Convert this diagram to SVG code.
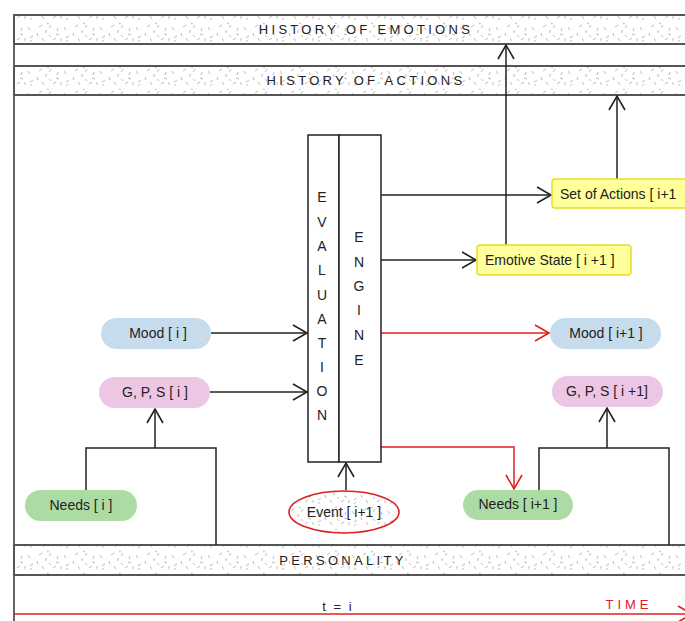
<svg xmlns="http://www.w3.org/2000/svg" width="685" height="621" viewBox="0 0 685 621">
  <defs>
    <!-- speckled fill used for the history / personality bands and the event -->
    <pattern id="grain" width="36" height="22" patternUnits="userSpaceOnUse">
      <rect width="36" height="22" fill="#fff"/>
      <path d="M3,5 l3,-2 M10,8 l0,3 M15,3 l-2,3 M20,12 l3,1 M28,5 l2,3 M33,14 l-3,2 M6,16 l2,3 M17,18 l3,-2 M25,16 l0,3 M11,1 l2,1 M30,20 l2,-2 M1,11 l1,3 M22,6 l-1,3 M13,13 l2,2"
            stroke="#aaa" stroke-width="0.8" fill="none"/>
    </pattern>
    <marker id="arr" viewBox="0 0 18 18" markerWidth="18" markerHeight="18" refX="16" refY="9" orient="auto" markerUnits="userSpaceOnUse">
      <path d="M2,1 L16,9 L2,17" fill="none" stroke="#222" stroke-width="1.6"/>
    </marker>
    <marker id="arrRed" viewBox="0 0 18 18" markerWidth="18" markerHeight="18" refX="16" refY="9" orient="auto" markerUnits="userSpaceOnUse">
      <path d="M2,1 L16,9 L2,17" fill="none" stroke="#e02020" stroke-width="1.6"/>
    </marker>
  </defs>
  <style>
    .band { fill: url(#grain); stroke: #555; stroke-width: 2; }
    .bandText { font-family: "Liberation Sans", Arial, sans-serif; font-size: 13px; letter-spacing: 3.3px; fill: #222; text-anchor: middle; }
    .lbl { font-family: "Liberation Sans", Arial, sans-serif; font-size: 14px; fill: #222; text-anchor: middle; }
    .lblStart { font-family: "Liberation Sans", Arial, sans-serif; font-size: 14px; fill: #222; }
    .letter { font-family: "Liberation Sans", Arial, sans-serif; font-size: 14px; fill: #222; text-anchor: middle; }
    .engineBox { fill: #fff; stroke: #222; stroke-width: 1.5; }
    .yellow { fill: #ffff9c; stroke: #eadc2a; stroke-width: 1.5; }
    .mood { fill: #c6dcec; }
    .gps { fill: #ecc6e2; }
    .needs { fill: #acdba4; }
    .line { fill: none; stroke: #222; stroke-width: 1.5; }
    .red { fill: none; stroke: #e02020; stroke-width: 1.5; }
  </style>

  <!-- outer frame edge -->
  <line x1="14" y1="15" x2="14" y2="621" stroke="#666" stroke-width="2"/>

  <g id="history-emotions">
    <rect class="band" x="14" y="15" width="680" height="29"/>
    <text class="bandText" x="366" y="34">HISTORY OF EMOTIONS</text>
  </g>
  <g id="history-actions">
    <rect class="band" x="14" y="66" width="680" height="29"/>
    <text class="bandText" x="366" y="85">HISTORY OF ACTIONS</text>
  </g>
  <g id="personality">
    <rect class="band" x="14" y="545" width="680" height="30"/>
    <text class="bandText" x="343" y="565">PERSONALITY</text>
  </g>

  <g id="connectors">
    <path class="line" d="M381,195 H551" marker-end="url(#arr)"/>
    <path class="line" d="M381,260 H476" marker-end="url(#arr)"/>
    <path class="line" d="M506,245 V45" marker-end="url(#arr)"/>
    <path class="line" d="M617,179 V96" marker-end="url(#arr)"/>
    <path class="line" d="M211,333 H307" marker-end="url(#arr)"/>
    <path class="line" d="M210,392 H307" marker-end="url(#arr)"/>
    <path class="line" d="M86,490 V448 H216 V545"/>
    <path class="line" d="M155,448 V409" marker-end="url(#arr)"/>
    <path class="line" d="M346,490 V463" marker-end="url(#arr)"/>
    <path class="red" d="M381,333 H549" marker-end="url(#arrRed)"/>
    <path class="red" d="M381,447 H514 V489" marker-end="url(#arrRed)"/>
    <path class="line" d="M539,490 V448 H669 V545"/>
    <path class="line" d="M607,448 V408" marker-end="url(#arr)"/>
    <path class="red" d="M14,614 H692" marker-end="url(#arrRed)"/>
  </g>

  <g id="evaluation">
    <rect class="engineBox" x="308" y="135" width="31" height="327"/>
    <text class="letter" x="322" y="202">E</text>
    <text class="letter" x="322" y="227">V</text>
    <text class="letter" x="322" y="251">A</text>
    <text class="letter" x="322" y="275">L</text>
    <text class="letter" x="322" y="300">U</text>
    <text class="letter" x="322" y="324">A</text>
    <text class="letter" x="322" y="348">T</text>
    <text class="letter" x="322" y="372">I</text>
    <text class="letter" x="322" y="396">O</text>
    <text class="letter" x="322" y="420">N</text>
  </g>
  <g id="engine">
    <rect class="engineBox" x="339" y="135" width="42" height="327"/>
    <text class="letter" x="359" y="242">E</text>
    <text class="letter" x="359" y="267">N</text>
    <text class="letter" x="359" y="291">G</text>
    <text class="letter" x="359" y="315">I</text>
    <text class="letter" x="359" y="340">N</text>
    <text class="letter" x="359" y="365">E</text>
  </g>

  <g id="set-of-actions">
    <rect class="yellow" x="552" y="179" width="140" height="29" rx="3"/>
    <text class="lblStart" x="560" y="199">Set of Actions [ i+1</text>
  </g>
  <g id="emotive-state">
    <rect class="yellow" x="477" y="245" width="154" height="30" rx="3"/>
    <text class="lblStart" x="485" y="265">Emotive State [ i +1 ]</text>
  </g>

  <g id="mood-i">
    <rect class="mood" x="101" y="318" width="110" height="31" rx="15.5"/>
    <text class="lbl" x="158" y="338">Mood [ i ]</text>
  </g>
  <g id="gps-i">
    <rect class="gps" x="99" y="377" width="111" height="31" rx="15.5"/>
    <text class="lbl" x="155" y="397">G, P, S [ i ]</text>
  </g>
  <g id="needs-i">
    <rect class="needs" x="25" y="490" width="112" height="31" rx="15.5"/>
    <text class="lbl" x="81" y="510">Needs [ i ]</text>
  </g>

  <g id="event">
    <ellipse cx="344" cy="512" rx="55" ry="21" fill="url(#grain)" stroke="#e02020" stroke-width="1.6"/>
    <text class="lbl" x="344" y="517">Event [ i+1 ]</text>
  </g>

  <g id="mood-next">
    <rect class="mood" x="550" y="318" width="111" height="31" rx="15.5"/>
    <text class="lbl" x="606" y="338">Mood [ i+1 ]</text>
  </g>
  <g id="gps-next">
    <rect class="gps" x="552" y="376" width="111" height="31" rx="15.5"/>
    <text class="lbl" x="607" y="396">G, P, S [ i +1]</text>
  </g>
  <g id="needs-next">
    <rect class="needs" x="463" y="490" width="110" height="30" rx="15"/>
    <text class="lbl" x="518" y="509">Needs [ i+1 ]</text>
  </g>

  <g id="time-axis">
    <text class="lbl" x="338" y="611" style="font-size:13px;letter-spacing:2px">t = i</text>
    <text x="629" y="609" font-family="Liberation Sans, Arial, sans-serif" font-size="13" fill="#e02020" text-anchor="middle" letter-spacing="4">TIME</text>
  </g>
</svg>
